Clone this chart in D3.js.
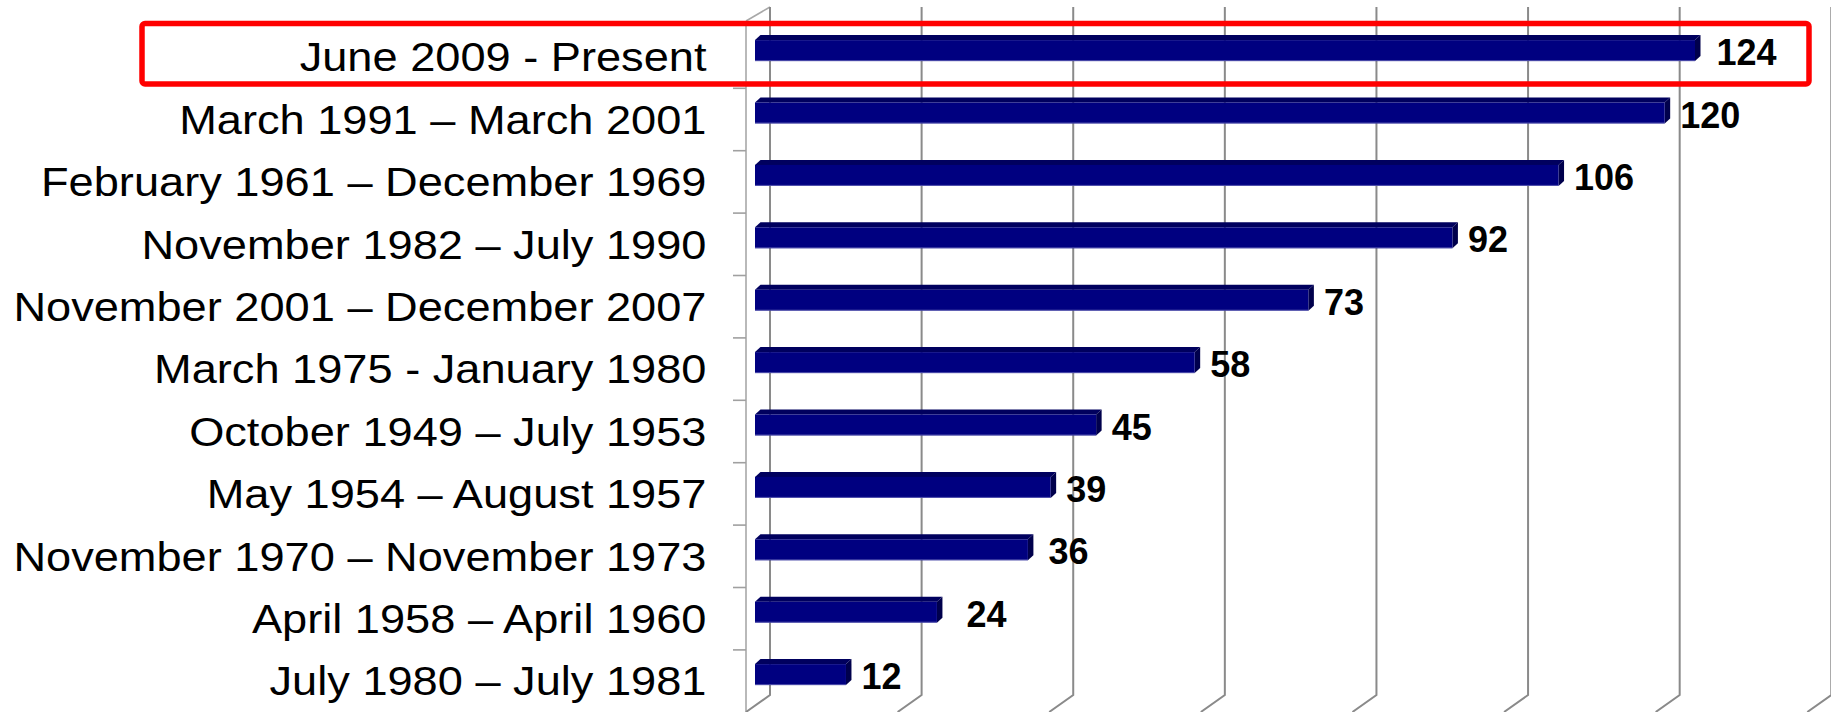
<!DOCTYPE html>
<html>
<head>
<meta charset="utf-8">
<script src="https://cdn.jsdelivr.net/npm/d3@7"></script>
<style>
  html, body { margin: 0; padding: 0; background: #fff; }
  svg { display: block; }
</style>
</head>
<body>
<svg id="chart" width="1831" height="712"></svg>
<script>
// Length of US economic expansions, in months
const periods = [
  "June 2009 - Present",
  "March 1991 \u2013 March 2001",
  "February 1961 \u2013 December 1969",
  "November 1982 \u2013 July 1990",
  "November 2001 \u2013 December 2007",
  "March 1975 - January 1980",
  "October 1949 \u2013 July 1953",
  "May 1954 \u2013 August 1957",
  "November 1970 \u2013 November 1973",
  "April 1958 \u2013 April 1960",
  "July 1980 \u2013 July 1981"
];
const months = [124, 120, 106, 92, 73, 58, 45, 39, 36, 24, 12];
const gridValues = [0, 20, 40, 60, 80, 100, 120, 140];

const svg = d3.select("#chart");

// 3D box geometry: front plane vs. back wall, depth offset
const depth = { dx: 24, dy: 14 };
const floorVec = { dx: -24, dy: 17 };
const backTop = 7, backBottom = 695;
const frontLeft = 746;

// value scales: front face of bars, back wall for gridlines
const xFront = d3.scaleLinear().domain([0, 124]).range([755, 1695]);
const xBack = d3.scaleLinear().domain([0, 140]).range([770, 770 + 140 * (940 / 124)]);

// category band on the front plane
const y = d3.scaleBand().domain(periods).range([25.9, 712.3]);
const barShift = -9;

const grid = svg.append("g").attr("class", "grid");

// left wall
grid.append("line")
  .attr("x1", frontLeft).attr("x2", frontLeft)
  .attr("y1", backTop + depth.dy).attr("y2", 730)
  .attr("stroke", "#a8a8a8").attr("stroke-width", 1.6);
grid.append("line")
  .attr("x1", frontLeft).attr("y1", backTop + depth.dy)
  .attr("x2", frontLeft + depth.dx).attr("y2", backTop)
  .attr("stroke", "#a8a8a8").attr("stroke-width", 1.6);

// back-wall gridlines with their floor continuation
gridValues.forEach(v => {
  const xb = xBack(v);
  grid.append("path")
    .attr("d", `M${xb},${backTop}L${xb},${backBottom}L${xb + floorVec.dx},${backBottom + floorVec.dy}`)
    .attr("fill", "none")
    .attr("stroke", "#8a8a8a")
    .attr("stroke-width", 2);
});

// category tick marks on the front-left axis
const tickYs = periods.slice(1).map(p => y(p));
grid.selectAll("line.tick")
  .data(tickYs)
  .join("line")
  .attr("class", "tick")
  .attr("x1", 733).attr("x2", frontLeft)
  .attr("y1", d => d).attr("y2", d => d)
  .attr("stroke", "#a0a0a0").attr("stroke-width", 1.6);

// bars
const bd = { dx: 5.5, dy: 5 };
const barHalf = 13;
const bars = svg.append("g").attr("class", "bars");
const data = periods.map((p, i) => ({ p, v: months[i] }));

data.forEach(d => {
  const c = y(d.p) + y.bandwidth() / 2 + barShift;
  const x0 = xFront(0), x1 = xFront(d.v);
  const top = c - barHalf, faceTop = c - barHalf + bd.dy, bot = c + barHalf;
  const g = bars.append("g");
  // top face
  g.append("path")
    .attr("d", `M${x0},${faceTop}L${x0 + bd.dx},${top}L${x1 + bd.dx},${top}L${x1},${faceTop}Z`)
    .attr("fill", "#00005e");
  // end face
  g.append("path")
    .attr("d", `M${x1},${faceTop}L${x1 + bd.dx},${top}L${x1 + bd.dx},${bot - bd.dy}L${x1},${bot}Z`)
    .attr("fill", "#00004c");
  // front face
  g.append("rect")
    .attr("x", x0).attr("y", faceTop)
    .attr("width", x1 - x0).attr("height", bot - faceTop)
    .attr("fill", "#000080");
  // soft lower edge of the front face
  g.append("line")
    .attr("x1", x0).attr("x2", x1)
    .attr("y1", bot - 0.5).attr("y2", bot - 0.5)
    .attr("stroke", "rgba(130,130,200,0.6)")
    .attr("stroke-width", 1);
});

// category labels
const labelSize = 40;
svg.append("g").selectAll("text")
  .data(periods)
  .join("text")
  .attr("transform", p => `translate(706.5,${y(p) + y.bandwidth() / 2 + labelSize * 0.355}) scale(1.13,1)`)
  .attr("text-anchor", "end")
  .attr("font-family", "Liberation Sans, Arial, sans-serif")
  .attr("font-size", labelSize)
  .attr("fill", "#000")
  .text(p => p);

// value labels
const labelNudge = { 0: 6, 8: 5, 9: 14 };
svg.append("g").selectAll("text")
  .data(data)
  .join("text")
  .attr("x", (d, i) => xFront(d.v) + bd.dx + 10 + (labelNudge[i] || 0))
  .attr("y", d => y(d.p) + y.bandwidth() / 2 + barShift + 17)
  .attr("font-family", "Liberation Sans, Arial, sans-serif")
  .attr("font-weight", "bold")
  .attr("font-size", 36)
  .attr("fill", "#000")
  .text(d => d.v);

// highlight box around the current expansion
svg.append("rect")
  .attr("x", 142).attr("y", 23.5)
  .attr("width", 1809 - 142).attr("height", 84 - 23.5)
  .attr("rx", 3).attr("ry", 3)
  .attr("fill", "none")
  .attr("stroke", "#ff0000")
  .attr("stroke-width", 5.5);
</script>
</body>
</html>
